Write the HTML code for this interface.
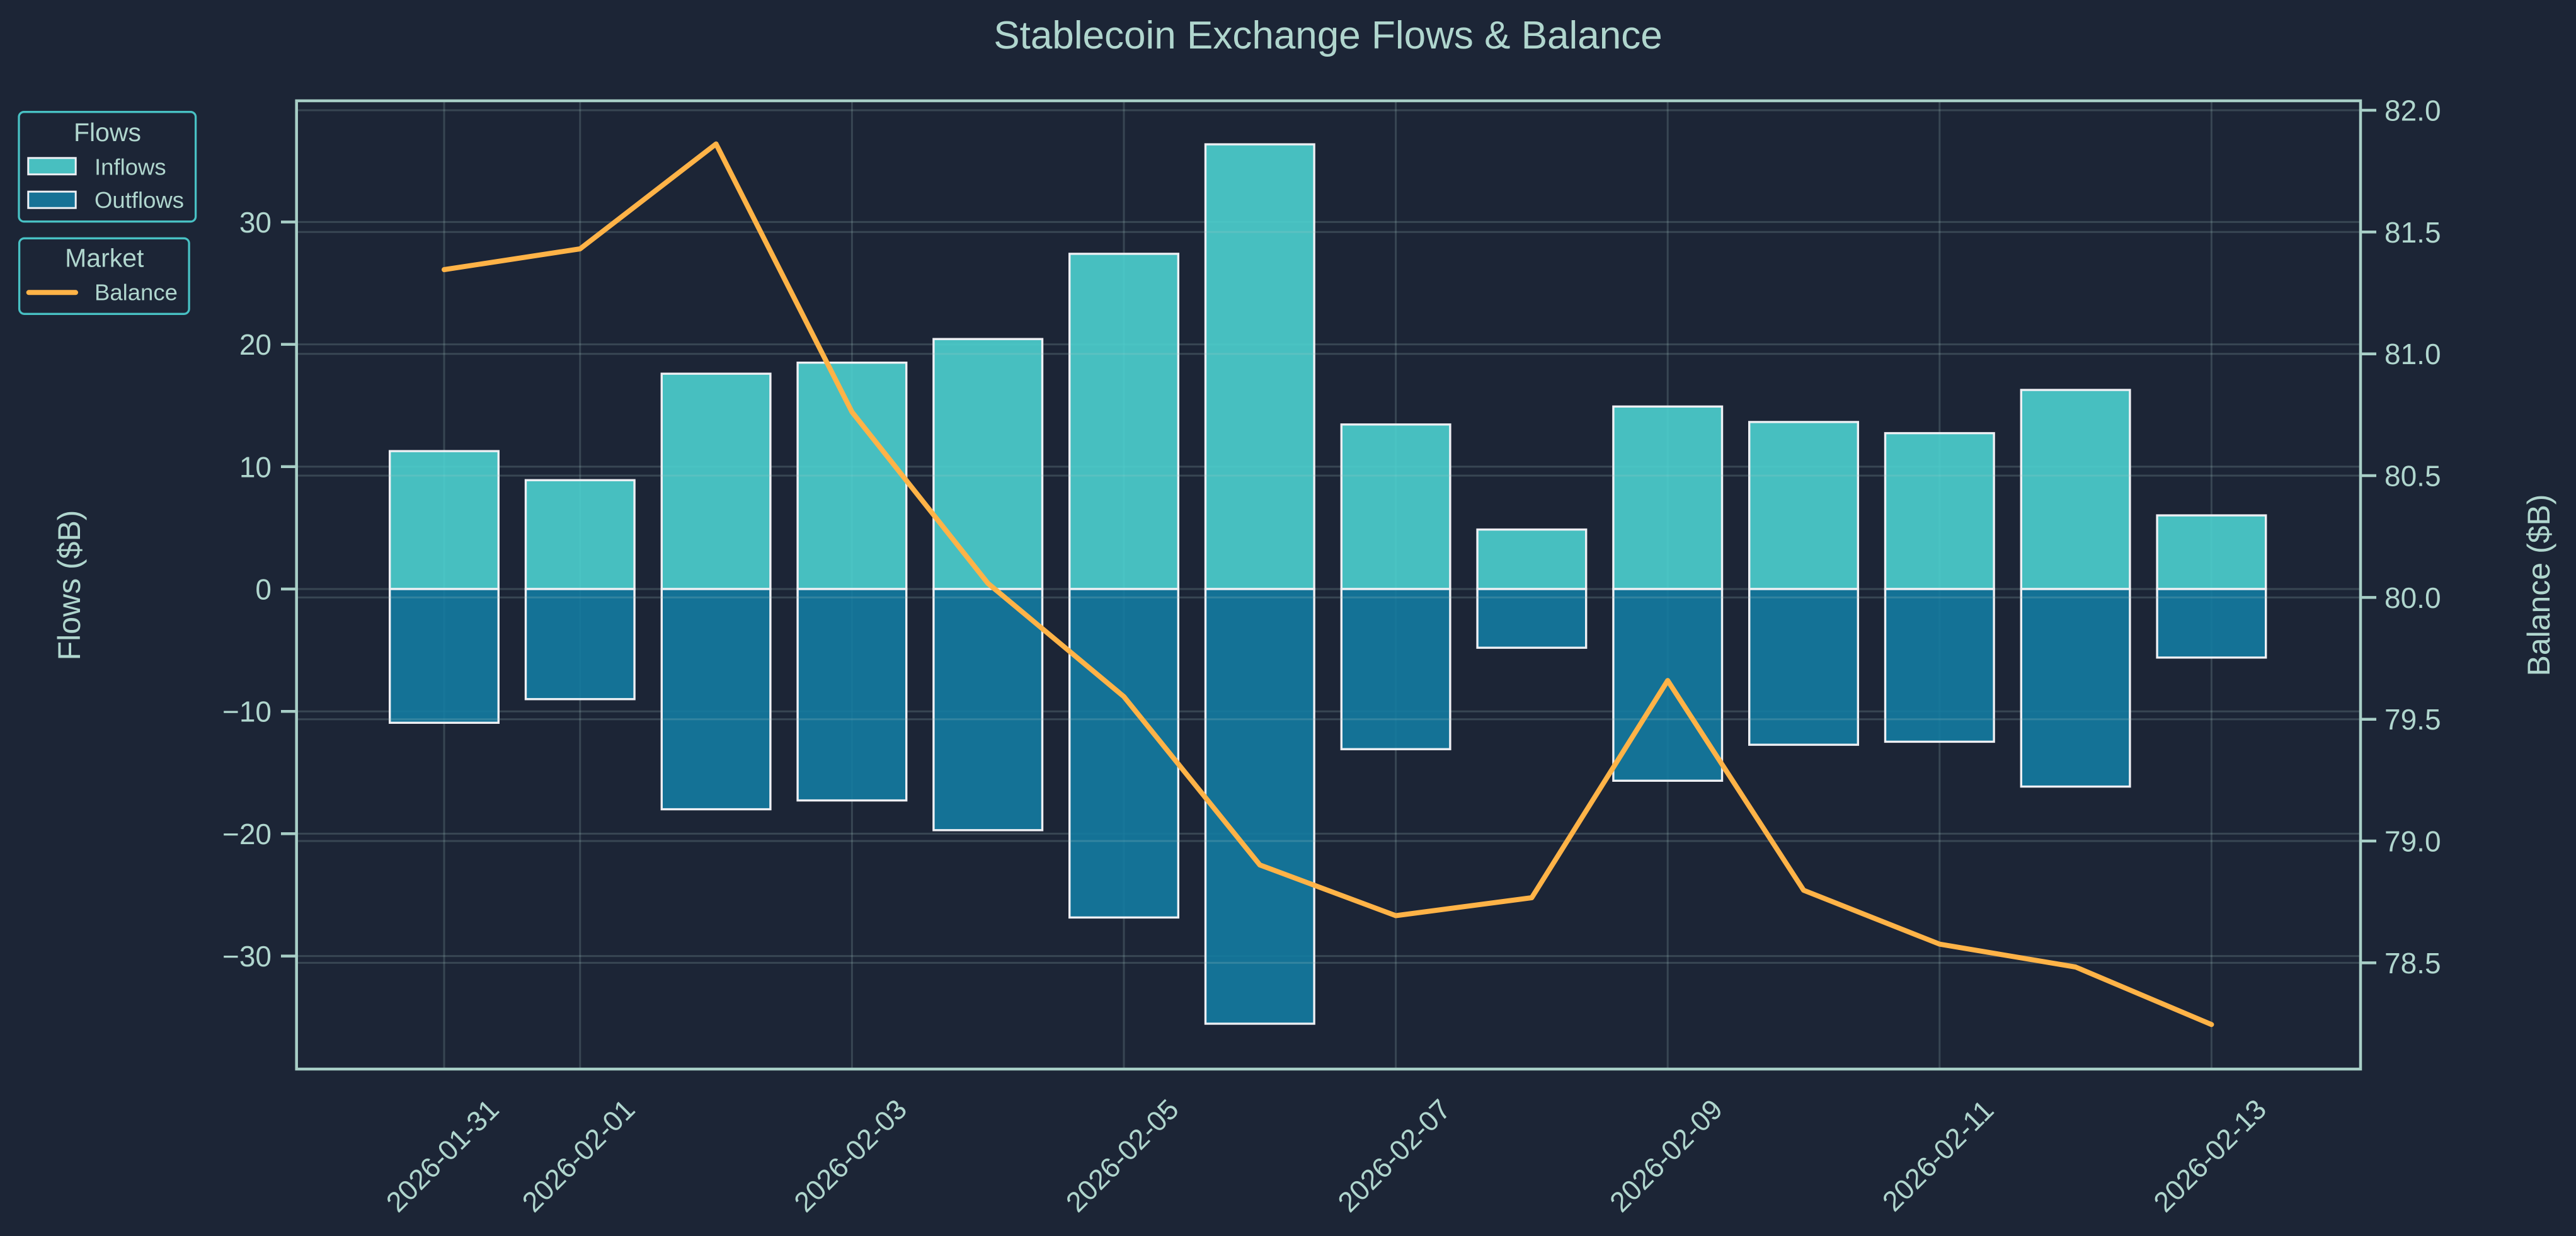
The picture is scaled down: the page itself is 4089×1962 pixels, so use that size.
<!DOCTYPE html>
<html>
<head>
<meta charset="utf-8">
<style>
  html, body { margin:0; padding:0; background:#1c2536; }
  body { width:4089px; height:1962px; overflow:hidden; }
  svg { display:block; }
  text { font-family: "Liberation Sans", Arial, sans-serif; fill:#b0d6ce; }
</style>
</head>
<body>
<svg width="4089" height="1962" viewBox="0 0 4089 1962" xmlns="http://www.w3.org/2000/svg">
  <rect x="0" y="0" width="4089" height="1962" fill="#1c2536"/>

  <!-- Title -->
  <text x="2108" y="77" font-size="62" text-anchor="middle">Stablecoin Exchange Flows &amp; Balance</text>

  <defs>
    <clipPath id="ax"><rect x="470.7" y="160" width="3276.3" height="1537"/></clipPath>
  </defs>

  <!-- Left-axis grid (horizontal + vertical) -->
  <g clip-path="url(#ax)" stroke="#a8cfc7" stroke-opacity="0.2" stroke-width="3">
    <line x1="470" y1="352.4" x2="3747" y2="352.4"/>
    <line x1="470" y1="546.6" x2="3747" y2="546.6"/>
    <line x1="470" y1="740.8" x2="3747" y2="740.8"/>
    <line x1="470" y1="935" x2="3747" y2="935"/>
    <line x1="470" y1="1129.2" x2="3747" y2="1129.2"/>
    <line x1="470" y1="1323.4" x2="3747" y2="1323.4"/>
    <line x1="470" y1="1517.6" x2="3747" y2="1517.6"/>
    <line x1="705" y1="160" x2="705" y2="1697"/>
    <line x1="920.8" y1="160" x2="920.8" y2="1697"/>
    <line x1="1352.4" y1="160" x2="1352.4" y2="1697"/>
    <line x1="1784" y1="160" x2="1784" y2="1697"/>
    <line x1="2215.6" y1="160" x2="2215.6" y2="1697"/>
    <line x1="2647.2" y1="160" x2="2647.2" y2="1697"/>
    <line x1="3078.8" y1="160" x2="3078.8" y2="1697"/>
    <line x1="3510.4" y1="160" x2="3510.4" y2="1697"/>
  </g>

  <!-- Inflow bars -->
  <g fill="#4dd0cf" fill-opacity="0.9" stroke="#eef0f4" stroke-width="3.4">
    <rect x="618.7" y="716.1" width="172.6" height="218.9"/>
    <rect x="834.5" y="762.2" width="172.6" height="172.8"/>
    <rect x="1050.3" y="593.2" width="172.6" height="341.8"/>
    <rect x="1266.1" y="575.7" width="172.6" height="359.3"/>
    <rect x="1481.9" y="538.2" width="172.6" height="396.8"/>
    <rect x="1697.7" y="402.9" width="172.6" height="532.1"/>
    <rect x="1913.5" y="229.1" width="172.6" height="705.9"/>
    <rect x="2129.3" y="673.8" width="172.6" height="261.2"/>
    <rect x="2345.1" y="840.6" width="172.6" height="94.4"/>
    <rect x="2560.9" y="645.3" width="172.6" height="289.7"/>
    <rect x="2776.7" y="669.9" width="172.6" height="265.1"/>
    <rect x="2992.5" y="687.6" width="172.6" height="247.4"/>
    <rect x="3208.3" y="619.0" width="172.6" height="316.0"/>
    <rect x="3424.1" y="818.1" width="172.6" height="116.9"/>
  </g>
  <!-- Outflow bars -->
  <g fill="#147ba1" fill-opacity="0.9" stroke="#eef0f4" stroke-width="3.4">
    <rect x="618.7" y="935" width="172.6" height="212.3"/>
    <rect x="834.5" y="935" width="172.6" height="174.8"/>
    <rect x="1050.3" y="935" width="172.6" height="349.6"/>
    <rect x="1266.1" y="935" width="172.6" height="335.6"/>
    <rect x="1481.9" y="935" width="172.6" height="382.8"/>
    <rect x="1697.7" y="935" width="172.6" height="521.4"/>
    <rect x="1913.5" y="935" width="172.6" height="690.0"/>
    <rect x="2129.3" y="935" width="172.6" height="254.2"/>
    <rect x="2345.1" y="935" width="172.6" height="93.2"/>
    <rect x="2560.9" y="935" width="172.6" height="304.3"/>
    <rect x="2776.7" y="935" width="172.6" height="247.2"/>
    <rect x="2992.5" y="935" width="172.6" height="242.4"/>
    <rect x="3208.3" y="935" width="172.6" height="313.6"/>
    <rect x="3424.1" y="935" width="172.6" height="108.8"/>
  </g>

  <!-- Right-axis grid (horizontal, on top of bars) -->
  <g clip-path="url(#ax)" stroke="#a8cfc7" stroke-opacity="0.2" stroke-width="3">
    <line x1="470" y1="175" x2="3747" y2="175"/>
    <line x1="470" y1="368.3" x2="3747" y2="368.3"/>
    <line x1="470" y1="561.7" x2="3747" y2="561.7"/>
    <line x1="470" y1="755" x2="3747" y2="755"/>
    <line x1="470" y1="948.4" x2="3747" y2="948.4"/>
    <line x1="470" y1="1141.7" x2="3747" y2="1141.7"/>
    <line x1="470" y1="1335" x2="3747" y2="1335"/>
    <line x1="470" y1="1528.4" x2="3747" y2="1528.4"/>
  </g>

  <!-- Balance line -->
  <polyline fill="none" stroke="#ffb347" stroke-width="8" stroke-linejoin="round" stroke-linecap="round"
    points="705,428 920.8,395 1136.6,228.5 1352.4,654 1568.2,926 1784,1105.8 1999.8,1373 2215.6,1453.5 2431.4,1425 2647.2,1080.3 2863,1413.2 3078.8,1498.7 3294.6,1535 3510.4,1626.3"/>

  <!-- Spines -->
  <rect x="470.7" y="160" width="3276.3" height="1537" fill="none" stroke="#a8cfc7" stroke-width="4.5"/>

  <!-- Left ticks -->
  <g stroke="#a8cfc7" stroke-width="4.5">
    <line x1="446" y1="352.4" x2="471" y2="352.4"/>
    <line x1="446" y1="546.6" x2="471" y2="546.6"/>
    <line x1="446" y1="740.8" x2="471" y2="740.8"/>
    <line x1="446" y1="935" x2="471" y2="935"/>
    <line x1="446" y1="1129.2" x2="471" y2="1129.2"/>
    <line x1="446" y1="1323.4" x2="471" y2="1323.4"/>
    <line x1="446" y1="1517.6" x2="471" y2="1517.6"/>
  </g>
  <g font-size="46" text-anchor="end">
    <text x="431" y="368.9">30</text>
    <text x="431" y="563.1">20</text>
    <text x="431" y="757.3">10</text>
    <text x="431" y="951.5">0</text>
    <text x="431" y="1145.7">−10</text>
    <text x="431" y="1339.9">−20</text>
    <text x="431" y="1534.1">−30</text>
  </g>

  <!-- Right ticks -->
  <g stroke="#a8cfc7" stroke-width="4.5">
    <line x1="3747" y1="175" x2="3772" y2="175"/>
    <line x1="3747" y1="368.3" x2="3772" y2="368.3"/>
    <line x1="3747" y1="561.7" x2="3772" y2="561.7"/>
    <line x1="3747" y1="755" x2="3772" y2="755"/>
    <line x1="3747" y1="948.4" x2="3772" y2="948.4"/>
    <line x1="3747" y1="1141.7" x2="3772" y2="1141.7"/>
    <line x1="3747" y1="1335" x2="3772" y2="1335"/>
    <line x1="3747" y1="1528.4" x2="3772" y2="1528.4"/>
  </g>
  <g font-size="46" text-anchor="start">
    <text x="3785" y="191.5">82.0</text>
    <text x="3785" y="384.8">81.5</text>
    <text x="3785" y="578.2">81.0</text>
    <text x="3785" y="771.5">80.5</text>
    <text x="3785" y="964.9">80.0</text>
    <text x="3785" y="1158.2">79.5</text>
    <text x="3785" y="1351.5">79.0</text>
    <text x="3785" y="1544.9">78.5</text>
  </g>

  <!-- X tick labels -->
  <g font-size="45" text-anchor="middle">
    <text transform="translate(702,1834) rotate(-45)" y="16">2026-01-31</text>
    <text transform="translate(917.8,1834) rotate(-45)" y="16">2026-02-01</text>
    <text transform="translate(1349.4,1834) rotate(-45)" y="16">2026-02-03</text>
    <text transform="translate(1781,1834) rotate(-45)" y="16">2026-02-05</text>
    <text transform="translate(2212.6,1834) rotate(-45)" y="16">2026-02-07</text>
    <text transform="translate(2644.2,1834) rotate(-45)" y="16">2026-02-09</text>
    <text transform="translate(3075.8,1834) rotate(-45)" y="16">2026-02-11</text>
    <text transform="translate(3507.4,1834) rotate(-45)" y="16">2026-02-13</text>
  </g>

  <!-- Axis labels -->
  <text transform="translate(127,929) rotate(-90)" font-size="50" text-anchor="middle">Flows ($B)</text>
  <text transform="translate(4047,929) rotate(-90)" font-size="50" text-anchor="middle">Balance ($B)</text>

  <!-- Legend: Flows -->
  <rect x="30" y="177.7" width="280.6" height="174" rx="8" ry="8" fill="#1c2536" stroke="#48c1c4" stroke-width="3.3"/>
  <text x="170.5" y="224" font-size="41" text-anchor="middle">Flows</text>
  <rect x="44.8" y="250.8" width="75.4" height="26" fill="#48bfc0" stroke="#eef0f4" stroke-width="3"/>
  <text x="150" y="277.3" font-size="36.5">Inflows</text>
  <rect x="44.8" y="304.2" width="75.4" height="26" fill="#167296" stroke="#eef0f4" stroke-width="3"/>
  <text x="150" y="330" font-size="36.5">Outflows</text>

  <!-- Legend: Market -->
  <rect x="30.6" y="378.3" width="269.5" height="120" rx="8" ry="8" fill="#1c2536" stroke="#48c1c4" stroke-width="3.3"/>
  <text x="165.8" y="423.3" font-size="41" text-anchor="middle">Market</text>
  <line x1="45.7" y1="464.3" x2="120" y2="464.3" stroke="#ffb347" stroke-width="8" stroke-linecap="round"/>
  <text x="150" y="476.7" font-size="36.5">Balance</text>
</svg>
</body>
</html>
